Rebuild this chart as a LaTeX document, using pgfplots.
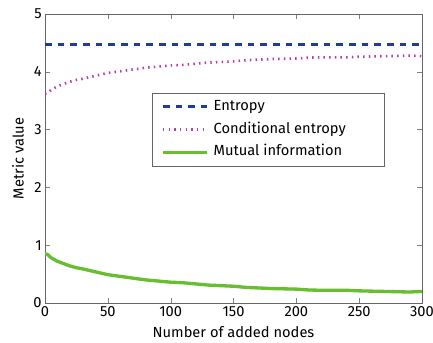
\documentclass[border=0pt]{standalone}
\usepackage{pgfplots}
\pgfplotsset{compat=1.18}
\usepackage{fontspec}
\setmainfont{Fira Sans}
\definecolor{cblue}{RGB}{30,62,150}
\definecolor{cmag}{RGB}{180,62,170}
\definecolor{cgreen}{RGB}{104,189,48}
\begin{document}
\begin{tikzpicture}
\begin{axis}[
  name=ax,
  scale only axis, width=282.75pt, height=216.75pt,
  xmin=0, xmax=300, ymin=0, ymax=5,
  xtick={0,50,...,300}, ytick={0,1,...,5},
  tick align=inside, tick pos=both,
  major tick length=4pt,
  axis line style={black!60},
  /pgf/number format/assume math mode=true,
  tick label style={font=\fontsize{11}{13}\selectfont},
  label style={font=\fontsize{11}{13}\selectfont},
  yticklabel style={xshift=1pt},
  xticklabel style={yshift=1pt},
  xlabel={Number of added nodes}, ylabel={Metric value},
  xlabel style={at={(axis description cs:0.5,0)}, anchor=center, yshift=-21.5pt},
  ylabel style={at={(axis description cs:0,0.5)}, anchor=center, yshift=20.25pt},
  legend style={at={(0.2838,0.7266)}, anchor=north west, draw=black!60,
    font=\fontsize{11}{13}\selectfont, row sep=6.5pt, column sep=3.75pt,
    inner xsep=6.75pt, inner ysep=5pt,
    nodes={inner xsep=0pt, inner ysep=0pt, text height=8pt, text depth=2.5pt}},
  legend cell align=left,
  legend image code/.code={\draw[#1] (0cm,0cm) -- (33pt,0cm);},
]
\addplot[cblue, line width=2.3pt, dash pattern=on 5pt off 4.5pt] coordinates {(0,4.47) (300,4.47)};
\addlegendentry{Entropy}
\addplot[cmag, line width=2pt, dash pattern=on 1.1pt off 3.15pt] coordinates {
(0,3.62) (2,3.63) (5,3.69) (10,3.75) (15,3.79) (20,3.83) (25,3.86) (30,3.88) (40,3.93) (50,3.98) (60,4.01) (70,4.04) (80,4.07) (90,4.09) (100,4.11) (110,4.12) (120,4.14) (130,4.16) (140,4.17) (150,4.18) (160,4.20) (170,4.21) (180,4.22) (190,4.225) (200,4.23) (210,4.245) (220,4.25) (230,4.25) (240,4.25) (250,4.26) (260,4.265) (270,4.27) (280,4.275) (290,4.28) (300,4.27)};
\addlegendentry{\makebox[121pt][l]{Conditional entropy}}
\addplot[cgreen, line width=2.5pt] coordinates {
(0,0.85) (2,0.84) (5,0.78) (10,0.72) (15,0.68) (20,0.64) (25,0.61) (30,0.59) (40,0.54) (50,0.49) (60,0.46) (70,0.43) (80,0.40) (90,0.38) (100,0.36) (110,0.35) (120,0.33) (130,0.31) (140,0.30) (150,0.29) (160,0.27) (170,0.26) (180,0.25) (190,0.245) (200,0.24) (210,0.225) (220,0.22) (230,0.22) (240,0.22) (250,0.21) (260,0.205) (270,0.20) (280,0.195) (290,0.19) (300,0.20)};
\addlegendentry{Mutual information}
\end{axis}
\pgfresetboundingbox
\path ([shift={(-33.75pt,-30pt)}]ax.south west) rectangle ([shift={(8.25pt,10.5pt)}]ax.north east);
\end{tikzpicture}
\end{document}
